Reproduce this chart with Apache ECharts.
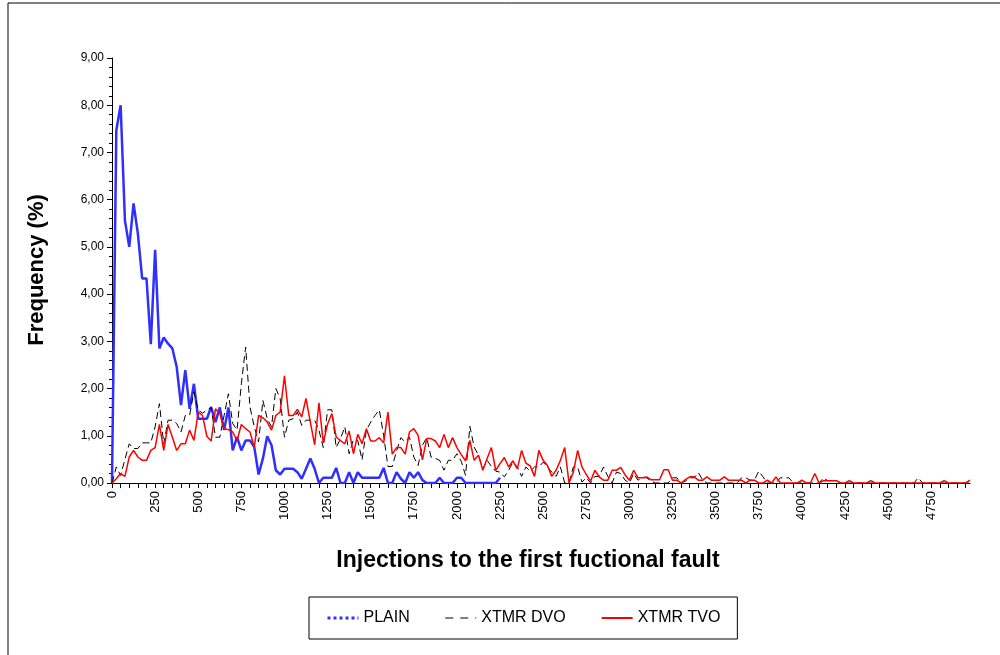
<!DOCTYPE html>
<html>
<head>
<meta charset="utf-8">
<script src="https://cdn.jsdelivr.net/npm/echarts@6/dist/echarts.min.js"></script>
<style>
html,body{margin:0;padding:0;background:#fff;}
#chart{width:1000px;height:655px;}
</style>
</head>
<body>
<div id="chart"></div>
<script>
// Bins of 25 injections: 0, 25, ..., 4975
const categories = Array.from({length: 200}, (_, i) => String(i * 25));

const plain = [
0,7.47,8.0,5.56,5.0,5.92,5.28,4.33,4.33,2.94,
4.94,2.85,3.08,2.95,2.85,2.46,1.65,2.39,1.57,2.1,
1.36,1.36,1.36,1.61,1.29,1.6,1.12,1.6,0.69,0.97,
0.69,0.9,0.9,0.76,0.18,0.52,0.99,0.8,0.27,0.18,
0.3,0.3,0.3,0.23,0.09,0.3,0.52,0.3,0,0.11,
0.11,0.11,0.32,0,0,0.23,0,0.23,0.11,0.11,
0.11,0.11,0.11,0.32,0,0,0.23,0.09,0,0.23,
0.11,0.23,0.06,0,0,0,0.11,0,0,0,
0.11,0.11,0,0,0,0,0,0,0,0,
0.11
];

const xtmrDvo = [
0,0.34,0.16,0.5,0.83,0.73,0.73,0.85,0.85,0.85,
1.19,1.68,0.83,1.33,1.33,1.26,1.08,1.43,1.43,1.93,
1.54,1.48,1.54,1.6,0.97,0.97,1.43,1.89,1.26,1.12,
2.1,2.88,1.61,1.19,0.87,1.75,1.36,1.19,2.0,1.79,
0.97,1.33,1.36,1.5,1.22,1.33,1.33,1.33,1.12,0.75,
1.55,1.55,0.75,0.94,1.19,0.62,0.92,0.9,0.49,1.12,
1.29,1.43,1.55,1.01,0.35,0.35,0.68,0.96,0.87,0.97,
0.55,0.37,0.8,0.96,0.55,0.52,0.48,0.27,0.48,0.48,
0.62,0.46,0.16,1.2,0.76,0.59,0.3,0.48,0.35,0.25,
0.23,0.13,0.27,0.44,0.34,0.14,0.34,0.25,0.34,0.34,
0.44,0.34,0.23,0.14,0.34,0,0,0.34,0.34,0.02,
0.11,0,0.14,0.14,0.34,0.14,0,0.23,0.2,0.06,
0,0.2,0.06,0.11,0.11,0.04,0,0,0,0,
0.11,0.11,0,0.04,0.11,0.11,0.22,0.06,0,0,
0,0,0,0,0,0,0.11,0.11,0.06,0.06,
0.25,0.13,0,0,0,0.11,0.11,0.11,0,0,
0,0,0,0,0,0.11,0.05,0.05,0.05,0,
0,0,0,0,0,0,0,0,0,0,
0,0,0,0,0,0,0,0.11,0,0,
0,0,0,0,0,0,0,0,0,0
];

const xtmrTvo = [
0,0.09,0.2,0.14,0.55,0.69,0.55,0.48,0.48,0.69,
0.75,1.24,0.69,1.24,0.97,0.69,0.83,0.83,1.12,0.9,
1.5,1.43,0.99,0.89,1.57,1.47,1.15,1.13,1.08,0.9,
1.24,1.15,1.08,0.76,1.43,1.38,1.29,1.12,1.43,1.5,
2.27,1.43,1.43,1.56,1.4,1.79,1.29,0.81,1.7,0.85,
1.25,1.47,0.97,0.9,0.83,1.1,0.62,1.03,0.83,1.15,
0.89,0.89,0.96,0.85,1.5,0.61,0.75,0.75,0.61,1.08,
1.15,1.01,0.49,0.94,0.94,0.89,0.75,1.03,0.75,0.96,
0.75,0.6,0.47,0.9,0.48,0.59,0.27,0.52,0.75,0.27,
0.41,0.54,0.34,0.47,0.3,0.69,0.42,0.36,0.14,0.69,
0.48,0.37,0.14,0.27,0.48,0.75,0,0.23,0.69,0.34,
0.18,0.04,0.27,0.13,0.06,0.06,0.27,0.27,0.33,0.17,
0.06,0.27,0.11,0.11,0.13,0.07,0.07,0.07,0.28,0.28,
0.06,0.06,0,0.07,0.13,0.13,0.06,0.06,0.13,0.06,
0.06,0.06,0.13,0.06,0.06,0.06,0.06,0,0.06,0.06,
0,0,0.06,0,0.13,0,0,0,0,0,
0.06,0,0,0.2,0,0.05,0.05,0.05,0.05,0,
0,0.05,0,0,0,0,0.05,0,0,0,
0,0,0,0,0,0,0,0,0,0,
0,0,0,0.05,0,0,0,0,0,0.06
];

const seriesNames = ['PLAIN', 'XTMR DVO', 'XTMR TVO'];
const xTitle = 'Injections to the first fuctional fault';
const yTitle = 'Frequency (%)';

const FONT = "'Liberation Sans', Arial, sans-serif";
const chart = echarts.init(document.getElementById('chart'), null, {renderer: 'canvas'});

chart.setOption({
  animation: false,
  backgroundColor: '#ffffff',
  grid: {left: 112, right: 30, top: 58, bottom: 172, containLabel: false},
  xAxis: {
    type: 'category',
    data: categories,
    boundaryGap: false,
    axisLine: {show: true, lineStyle: {color: '#000', width: 1}},
    axisTick: {show: true, interval: 1, length: 5, lineStyle: {color: '#000'}},
    axisLabel: {interval: 9, rotate: 90, color: '#000', fontFamily: FONT, fontSize: 13, margin: 8},
    splitLine: {show: false}
  },
  yAxis: {
    type: 'value',
    min: 0, max: 9, interval: 1,
    axisLine: {show: true, lineStyle: {color: '#000', width: 1}},
    axisTick: {show: true, length: 5, lineStyle: {color: '#000'}},
    minorTick: {show: true, splitNumber: 5, length: 3, lineStyle: {color: '#000'}},
    axisLabel: {color: '#000', fontFamily: FONT, fontSize: 12, margin: 8,
      formatter: v => v.toFixed(2).replace('.', ',')},
    splitLine: {show: false}
  },
  legend: {
    left: 309, top: 597,
    orient: 'horizontal',
    borderColor: '#000', borderWidth: 1,
    padding: [13, 17, 13, 17],
    itemWidth: 31, itemHeight: 14, itemGap: 35,
    itemStyle: {opacity: 0},
    textStyle: {color: '#000', fontFamily: FONT, fontSize: 16},
    data: [
      {name: seriesNames[0], lineStyle: {type: 'dotted', width: 3}},
      {name: seriesNames[1], lineStyle: {type: [8, 7], width: 1}},
      {name: seriesNames[2]}
    ]
  },
  graphic: [
    {type: 'rect', shape: {x: 8, y: 3, width: 1200, height: 900}, style: {fill: 'none', stroke: '#000', lineWidth: 1}, silent: true},
    {type: 'text', x: 528, y: 561, style: {text: xTitle, fontFamily: FONT, fontSize: 23, fontWeight: 'bold', fill: '#000', textAlign: 'center', textVerticalAlign: 'middle'}},
    {type: 'text', x: 37, y: 270, rotation: Math.PI / 2, style: {text: yTitle, fontFamily: FONT, fontSize: 22, fontWeight: 'bold', fill: '#000', textAlign: 'center', textVerticalAlign: 'middle'}}
  ],
  series: [
    {name: seriesNames[0], type: 'line', data: plain, symbol: 'none', showSymbol: false,
     lineStyle: {color: '#2f2fff', width: 2.5}, itemStyle: {color: '#2f2fff'}},
    {name: seriesNames[1], type: 'line', data: xtmrDvo, symbol: 'none', showSymbol: false,
     lineStyle: {color: '#000', width: 1, type: [7, 4]}, itemStyle: {color: '#000'}},
    {name: seriesNames[2], type: 'line', data: xtmrTvo, symbol: 'none', showSymbol: false,
     lineStyle: {color: '#ff0000', width: 1.5}, itemStyle: {color: '#ff0000'}}
  ]
});
</script>
</body>
</html>
